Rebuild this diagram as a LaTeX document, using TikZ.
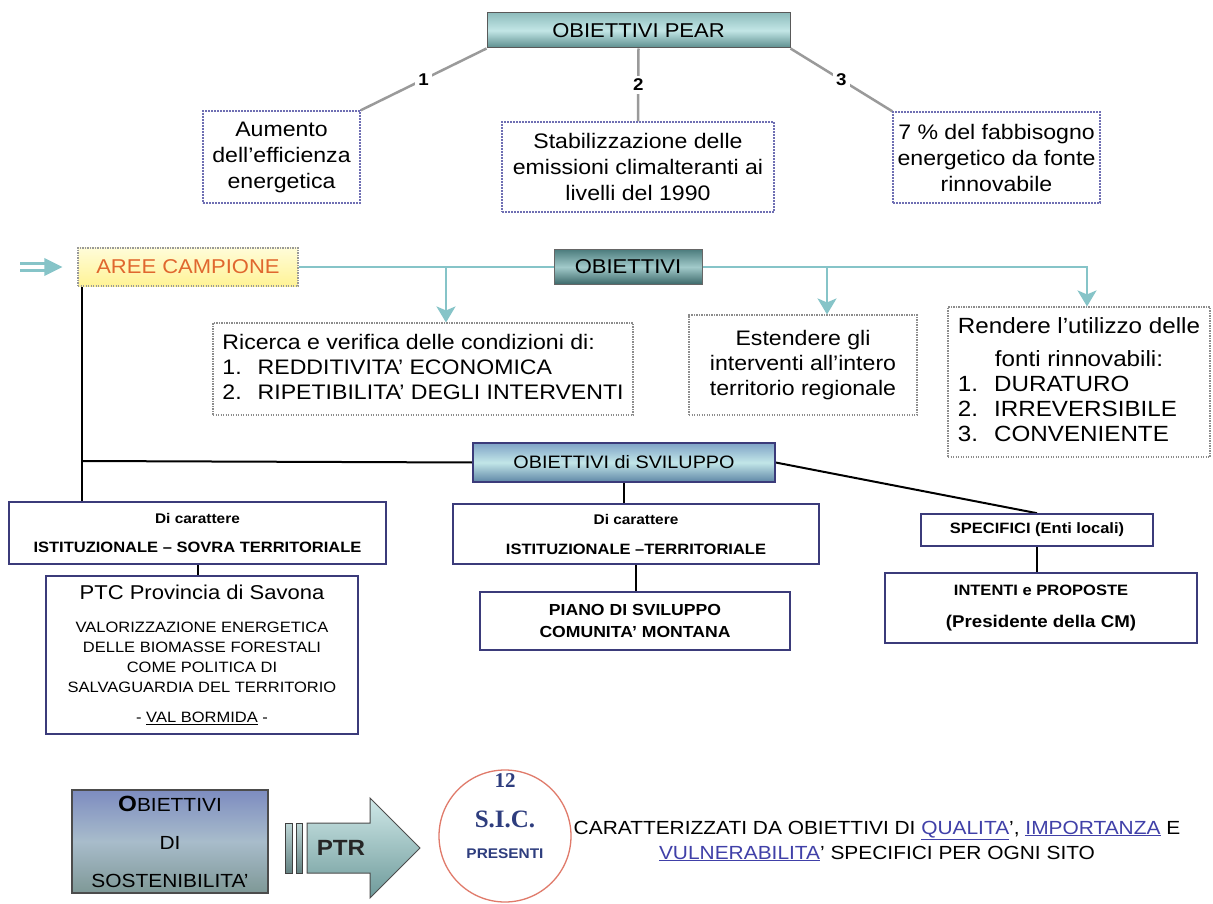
\documentclass[tikz,border=0pt]{standalone}
\usepackage{fontspec}
\setmainfont{Liberation Sans}[FakeStretch=1.1]
\newfontfamily\sicserif{Liberation Serif}
\usetikzlibrary{arrows.meta,calc}

\definecolor{tealline}{HTML}{86C4C8}
\definecolor{dotblue}{HTML}{6F6FB3}
\definecolor{navy}{HTML}{3B3B7A}
\definecolor{greyline}{HTML}{9A9A9A}
\definecolor{areetext}{HTML}{E0672E}
\definecolor{sicnavy}{HTML}{2E3D7E}
\definecolor{ulblue}{HTML}{4040A8}
\definecolor{circred}{HTML}{E07A6A}
\definecolor{peartop}{HTML}{8FBDBD}
\definecolor{pearmid}{HTML}{C2E6E6}
\definecolor{pearbot}{HTML}{5A8C8C}

\newcommand{\setfs}[2]{\fontsize{#1}{#2}\selectfont}

\pgfdeclarelayer{background}
\pgfsetlayers{background,main}

\tikzset{
  box/.style={rectangle, inner sep=2pt, align=center},
  pearbox/.style={box, draw=black!65, line width=1pt,
    top color=peartop, bottom color=pearbot, middle color=pearmid,
    font=\setfs{20}{24}},
  dotbox/.style={box, draw=dotblue, line width=1.3pt,
    dash pattern=on 1.6pt off 1.4pt, font=\setfs{21}{26}},
  greydot/.style={box, draw=black!45, line width=1.1pt,
    dash pattern=on 1.2pt off 1.3pt, font=\setfs{21}{25}},
  solidbox/.style={box, draw=navy, line width=1.6pt, fill=white},
  greyconn/.style={draw=greyline, line width=2.5pt},
  numlabel/.style={fill=white, inner sep=3pt, font=\bfseries\setfs{17}{20}},
  tealarrow/.style={draw=tealline, line width=2.4pt,
    -{Stealth[width=19pt,length=16pt,inset=4pt]}},
  blackline/.style={draw=black, line width=2pt},
  barstyle/.style={rectangle, draw=black!75, line width=1pt, minimum height=50, inner sep=0,
    top color={rgb,255:red,190;green,215;blue,215}, bottom color={rgb,255:red,100;green,130;blue,130}},
}

\begin{document}
\begin{tikzpicture}[x=1pt,y=-1pt]
\useasboundingbox (0,0) rectangle (1213,904);
\begin{pgfonlayer}{background}
  \fill[white] (0,0) rectangle (1213,904);
\end{pgfonlayer}

% ---------- PEAR objectives ----------
\node[pearbox, minimum width=303, minimum height=35] (pear) at (638.5,30.5) {OBIETTIVI PEAR};
\node[dotbox, minimum width=157, minimum height=92] (b1) at (281.5,157)
  {Aumento\\dell'efficienza\\energetica};
\node[dotbox, minimum width=272, minimum height=90] (b2) at (638,167)
  {Stabilizzazione delle\\emissioni climalteranti ai\\livelli del 1990};
\node[dotbox, minimum width=207, minimum height=91] (b3) at (996.5,157.5)
  {7 \% del fabbisogno\\energetico da fonte\\rinnovabile};

% ---------- sample areas and objectives ----------
\node[box, draw=black!40, line width=1.1pt, dash pattern=on 1.2pt off 1.3pt,
      top color={rgb,255:red,255;green,252;blue,216}, bottom color={rgb,255:red,255;green,243;blue,150},
      text=areetext, font=\setfs{20}{24}, minimum width=220, minimum height=38]
  (aree) at (188,267) {AREE CAMPIONE};
\coordinate (arrstart) at (20,267);

\node[box, draw=black!60, line width=1pt,
      top color={rgb,255:red,79;green,127;blue,128}, bottom color={rgb,255:red,61;green,106;blue,107},
      middle color={rgb,255:red,162;green,202;blue,202},
      font=\setfs{20}{24}, minimum width=148, minimum height=34]
  (obiettivi) at (628,267) {OBIETTIVI};

\node[greydot, minimum width=420, minimum height=92] (ricerca) at (423,369)
  {\begin{tabular}{@{}l@{\hspace{16pt}}l@{}}
   \multicolumn{2}{@{}l@{}}{Ricerca e verifica delle condizioni di:}\\
   1. & REDDITIVITA' ECONOMICA\\
   2. & RIPETIBILITA' DEGLI INTERVENTI
   \end{tabular}};
\node[greydot, minimum width=228, minimum height=100] (estendere) at (803,365)
  {Estendere gli\\interventi all'intero\\territorio regionale};
\node[greydot, font=\setfs{22}{25}, minimum width=262, minimum height=150] (rendere) at (1079,382)
  {\begin{tabular}{@{}l@{\hspace{16pt}}l@{}}
   \multicolumn{2}{@{}c@{}}{Rendere l'utilizzo delle}\\[8pt]
   \multicolumn{2}{@{}c@{}}{fonti rinnovabili:}\\
   1. & DURATURO\\
   2. & IRREVERSIBILE\\
   3. & CONVENIENTE
   \end{tabular}};

\coordinate (tA) at (446,267);
\coordinate (tB) at (827,267);
\coordinate (tC) at (1087,267);

% ---------- development objectives ----------
\node[box, draw=navy, line width=1.3pt,
      top color={rgb,255:red,127;green,163;blue,198}, bottom color={rgb,255:red,94;green,134;blue,166},
      middle color={rgb,255:red,194;green,230;blue,232},
      font=\setfs{18}{22}, minimum width=302, minimum height=39]
  (sviluppo) at (624,462.5) {OBIETTIVI di SVILUPPO};
\coordinate (junction) at (82,461);

\node[solidbox, font=\bfseries\setfs{15}{29}, minimum width=377, minimum height=62] (sovra) at (197.5,533)
  {{\setfs{14}{29}Di carattere}\\ISTITUZIONALE – SOVRA TERRITORIALE};
\node[solidbox, font=\setfs{15}{20}, minimum width=312, minimum height=158] (ptc) at (202,655)
  {{\setfs{20}{20}PTC Provincia di Savona}\\[13pt]
   VALORIZZAZIONE ENERGETICA\\DELLE BIOMASSE FORESTALI\\COME POLITICA DI\\SALVAGUARDIA DEL TERRITORIO\\[10pt]
   - \underline{VAL BORMIDA} -};
\node[solidbox, font=\bfseries\setfs{15}{30}, minimum width=366, minimum height=60] (ist2) at (636,534)
  {{\setfs{14}{30}Di carattere}\\ISTITUZIONALE –TERRITORIALE};
\node[solidbox, font=\bfseries\setfs{16}{22}, minimum width=310, minimum height=58] (piano) at (635,621)
  {PIANO DI SVILUPPO\\COMUNITA' MONTANA};
\node[solidbox, font=\bfseries\setfs{15}{18}, minimum width=232, minimum height=32] (specifici) at (1037,530)
  {SPECIFICI (Enti locali)};
\node[solidbox, font=\bfseries\setfs{17}{32}, minimum width=312, minimum height=70] (intenti) at (1041,608)
  {{\setfs{15}{32}INTENTI e PROPOSTE}\\(Presidente della CM)};

% ---------- sustainability ----------
\node[box, draw=black!70, line width=1.3pt,
      top color={rgb,255:red,125;green,140;blue,192}, bottom color={rgb,255:red,126;green,152;blue,150},
      middle color={rgb,255:red,168;green,188;blue,203},
      font=\setfs{19}{38}, minimum width=196, minimum height=103]
  (sost) at (170,841.5) {{\bfseries\setfs{22}{38}O}BIETTIVI\\DI\\SOSTENIBILITA'};

\node[barstyle, minimum width=7] (bar1) at (288.5,848) {};
\node[barstyle, minimum width=6] (bar2) at (299.5,848) {};
\path[draw=black!70, line width=1pt,
      top color={rgb,255:red,207;green,232;blue,232}, bottom color={rgb,255:red,110;green,154;blue,154}]
  (307,823) -- (370,823) -- (370,798) -- (420,848) -- (370,898) -- (370,873) -- (307,873) -- cycle;
\node[font=\bfseries\setfs{22}{24}, text=black!85] (ptr) at (341,848) {PTR};

\node[circle, draw=circred, line width=1.3pt, fill=white, minimum size=132] (sic) at (505,836) {};
\node[align=center, text=sicnavy, inner sep=0, font=\setfs{14}{36}] (sictext) at (505,816)
  {{\sicserif\bfseries\setfs{21}{36}12}\\[4pt]{\sicserif\bfseries\setfs{25}{36}S.I.C.}\\[-5pt]{\bfseries PRESENTI}};

\node[align=center, font=\setfs{19}{25}] (caratt) at (877,841)
  {CARATTERIZZATI DA OBIETTIVI DI {\color{ulblue}\underline{QUALITA}}', {\color{ulblue}\underline{IMPORTANZA}} E\\
   {\color{ulblue}\underline{VULNERABILITA}}' SPECIFICI PER OGNI SITO};

% ---------- connectors ----------
\begin{pgfonlayer}{background}
  \draw[greyconn] (pear.south west) -- node[numlabel]{1} (b1.north east);
  \draw[greyconn] (pear.south) -- node[numlabel]{2} (b2.north);
  \draw[greyconn] (pear.south east) -- node[numlabel]{3} (b3.north west);

  \draw[tealarrow] (aree.east) -- (tC) -- (tC |- rendere.north);
  \draw[tealarrow] (tA) -- (tA |- ricerca.north);
  \draw[tealarrow] (tB) -- (tB |- estendere.north);

  \draw[blackline] (aree.south -| junction) -- (sovra.north -| junction);
  \draw[blackline] (junction) -- (sviluppo.west);
  \draw[blackline] (sviluppo.south) -- (sviluppo.south |- ist2.north);
  \draw[blackline] (ist2.south) -- (ist2.south |- piano.north);
  \draw[blackline] (sviluppo.east) -- (specifici.north);
  \draw[blackline] (specifici.south) -- (specifici.south |- intenti.north);
  \draw[blackline] (sovra.south) -- (sovra.south |- ptc.north);
\end{pgfonlayer}

% double arrow pointing at the sample areas
\draw[tealline, line width=2.2pt] ([yshift=3.5pt]arrstart) -- ([yshift=3.5pt,xshift=-30pt]aree.west);
\draw[tealline, line width=2.2pt] ([yshift=-3.5pt]arrstart) -- ([yshift=-3.5pt,xshift=-30pt]aree.west);
\fill[tealline] ([yshift=9pt,xshift=-33pt]aree.west) -- ([xshift=-15pt]aree.west) -- ([yshift=-9pt,xshift=-33pt]aree.west) -- cycle;
\end{tikzpicture}
\end{document}
